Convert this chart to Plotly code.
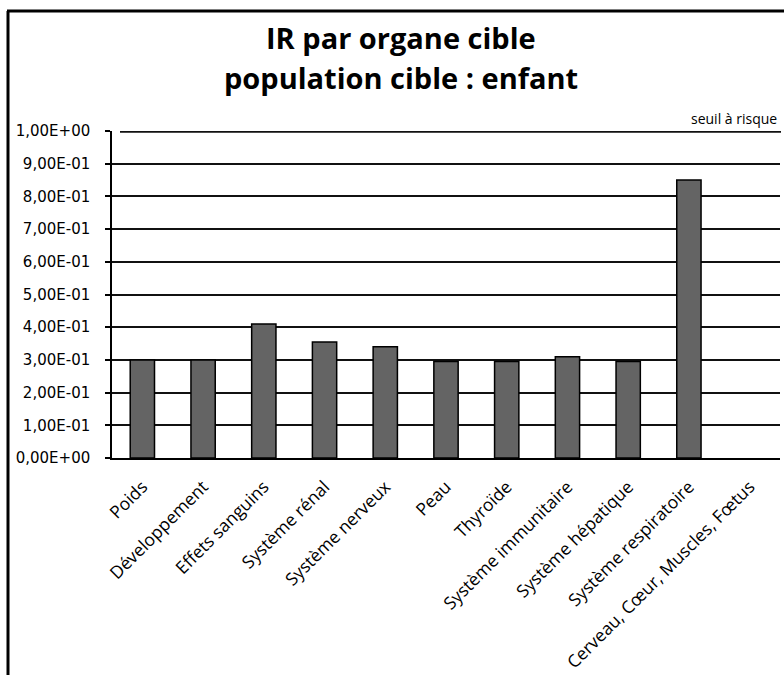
import plotly.graph_objects as go

categories = ["Poids", "Développement", "Effets sanguins", "Système rénal",
              "Système nerveux", "Peau", "Thyroïde", "Système immunitaire",
              "Système hépatique", "Système respiratoire",
              "Cerveau, Cœur, Muscles, Fœtus"]
ir_values = [0.30, 0.30, 0.41, 0.355, 0.34, 0.295, 0.295, 0.31, 0.295, 0.85, None]
seuil = 1.0
tick_vals = [0.0, 0.1, 0.2, 0.3, 0.4, 0.5, 0.6, 0.7, 0.8, 0.9, 1.0]
tick_text = ["0,00E+00", "1,00E-01", "2,00E-01", "3,00E-01", "4,00E-01",
             "5,00E-01", "6,00E-01", "7,00E-01", "8,00E-01", "9,00E-01", "1,00E+00"]
title_lines = ["IR par organe cible", "population cible : enfant"]

W, H = 784, 675
L, R, T, B = 112, 4, 131, 217
pw, ph = W - L - R, H - T - B

def px_x(px):
    return (px - L) / pw

def px_y(py):
    return (H - B - py) / ph

fig = go.Figure()
fig.add_trace(go.Bar(
    x=categories, y=ir_values,
    marker=dict(color="#646464", line=dict(color="#000000", width=1.5)),
    width=0.4, showlegend=False,
))

fig.update_layout(
    width=W, height=H,
    margin=dict(l=L, r=R, t=T, b=B),
    paper_bgcolor="white", plot_bgcolor="white",
    xaxis=dict(
        automargin=False,
        tickangle=-45, showgrid=False, showline=True, linecolor="#000000",
        linewidth=1.5, ticks="", ticklabelstandoff=10,
        tickfont=dict(family="Open Sans", size=17.5, color="#000000"),
    ),
    yaxis=dict(
        automargin=False,
        range=[0, 1.0], tickvals=tick_vals, ticktext=tick_text,
        showgrid=True, gridcolor="#111111", gridwidth=1.6,
        showline=True, linecolor="#000000", linewidth=1.5,
        ticks="outside", ticklen=5, tickcolor="#000000", tickwidth=1.5,
        ticklabelstandoff=12,
        tickfont=dict(family="DejaVu Sans", size=15, color="#000000"),
        zeroline=False,
    ),
    showlegend=False,
)

# title (two lines)
for line, cy in zip(title_lines, [38, 77]):
    fig.add_annotation(text="<b>" + line + "</b>", xref="paper", yref="paper",
                       x=px_x(401), y=px_y(cy), xanchor="center", yanchor="middle",
                       showarrow=False,
                       font=dict(family="Open Sans", size=29, color="#000000"))

# threshold line
fig.add_shape(type="line", xref="paper", yref="y",
              x0=px_x(120), x1=px_x(781), y0=seuil, y1=seuil,
              line=dict(color="#111111", width=3.5))
fig.add_annotation(text="seuil à risque", xref="paper", yref="y",
                   x=px_x(779), y=seuil, xanchor="right", yanchor="bottom",
                   yshift=1, showarrow=False,
                   font=dict(family="Open Sans", size=14, color="#000000"))

# chart frame (left and top edges)
fig.add_shape(type="line", xref="paper", yref="paper",
              x0=px_x(8), x1=px_x(8), y0=px_y(11), y1=px_y(H + 5),
              line=dict(color="#000000", width=3))
fig.add_shape(type="line", xref="paper", yref="paper",
              x0=px_x(7), x1=px_x(W + 5), y0=px_y(11), y1=px_y(11),
              line=dict(color="#000000", width=3))

fig.write_html("out.html")
